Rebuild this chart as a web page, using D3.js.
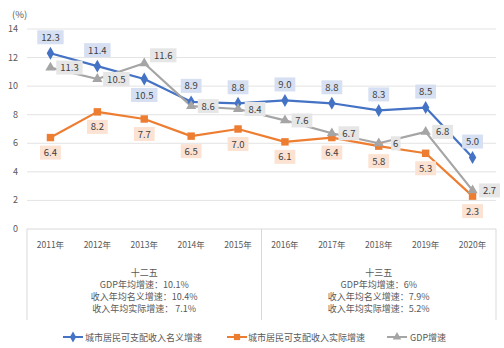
<!DOCTYPE html>
<html><head><meta charset="utf-8">
<script src="https://cdn.jsdelivr.net/npm/d3@7"></script>
<style>body{margin:0;background:#fff;}svg{display:block;font-family:"Noto Sans CJK SC","Noto Sans",sans-serif;}</style>
</head><body><svg id="c" width="504" height="348"></svg>
<script>
const years = ["2011年","2012年","2013年","2014年","2015年","2016年","2017年","2018年","2019年","2020年"];
const nominal = [12.3,11.4,10.5,8.9,8.8,9.0,8.8,8.3,8.5,5.0];
const real = [6.4,8.2,7.7,6.5,7.0,6.1,6.4,5.8,5.3,2.3];
const gdp = [11.3,10.5,11.6,8.6,8.4,7.6,6.7,6.0,6.8,2.7];
const gdpLabels = ["11.3","10.5","11.6","8.6","8.4","7.6","6.7","6","6.8","2.7"];
const yTicks = [0,2,4,6,8,10,12,14];
const seriesNames = ["城市居民可支配收入名义增速","城市居民可支配收入实际增速","GDP增速"];
const periods = [
  {name:"十二五", lines:["GDP年均增速：10.1%","收入年均名义增速：10.4%","收入年均实际增速： 7.1%"]},
  {name:"十三五", lines:["GDP年均增速：6%","收入年均名义增速：7.9%","收入年均实际增速：5.2%"]}
];

const svg = d3.select("#c");
const L=27, R=496, T=29, B=229;
const x = d3.scaleBand().domain(years).range([L,R]);
const y = d3.scaleLinear().domain([0,14]).range([B,T]);
const cx = d => x(d)+x.bandwidth()/2;

// grid
svg.append("g").selectAll("line").data(yTicks).join("line")
  .attr("x1",L).attr("x2",R).attr("y1",d=>y(d)).attr("y2",d=>y(d))
  .attr("stroke",d=>d===0?"#d9d9d9":"#e3e3e3").attr("stroke-width",1);
svg.append("g").selectAll("text").data(yTicks).join("text")
  .attr("x",18).attr("y",d=>y(d)+3).attr("text-anchor","end")
  .attr("font-size",9).attr("fill","#595959").text(d=>d);
svg.append("text").attr("x",12).attr("y",18).attr("font-size",9.5).attr("fill","#595959").text("(%)");

// box under axis
const boxB = 320;
[L, x("2016年"), R].forEach(v=>{
  svg.append("line").attr("x1",v).attr("x2",v).attr("y1",B).attr("y2",boxB).attr("stroke","#d9d9d9");
});
svg.append("g").selectAll("text").data(years).join("text")
  .attr("x",d=>cx(d)).attr("y",248).attr("text-anchor","middle")
  .attr("font-size",8.5).attr("fill","#595959").text(d=>d);
periods.forEach((p,i)=>{
  const xc = i===0 ? (L+x("2016年"))/2 : (x("2016年")+R)/2;
  const g = svg.append("g").attr("font-size",9).attr("fill","#595959").attr("text-anchor","middle");
  g.append("text").attr("x",xc).attr("y",276).text(p.name);
  p.lines.forEach((t,j)=>g.append("text").attr("x",xc).attr("y",288+j*12).text(t));
});

const colors = ["#4472c4","#ed7d31","#a5a5a5"];
const bgs = ["#d6e0f2","#fbe2d2","#e6e6e6"];
const data = [nominal, real, gdp];
const symbols = [d3.symbolDiamond, d3.symbolSquare, d3.symbolTriangle];
const symSize = [48,55,45];
const line = d3.line().x((d,i)=>cx(years[i])).y(d=>y(d));

data.forEach((s,k)=>{
  svg.append("path").datum(s).attr("d",line).attr("fill","none")
    .attr("stroke",colors[k]).attr("stroke-width",2.2).attr("stroke-linejoin","round");
});
data.forEach((s,k)=>{
  svg.append("g").selectAll("path").data(s).join("path")
    .attr("d",d3.symbol().type(symbols[k]).size(symSize[k]))
    .attr("transform",(d,i)=>`translate(${cx(years[i])},${y(d)})`)
    .attr("fill",colors[k]);
});

function label(xp, yp, txt, k){
  const g = svg.append("g");
  g.append("text").attr("x",xp).attr("y",yp+3.5).attr("text-anchor","middle")
    .attr("font-size",9.5).attr("fill","#404040").text(txt);
  const w = txt.length*5.6+4;
  g.insert("rect","text").attr("x",xp-w/2).attr("y",yp-7).attr("width",w).attr("height",14).attr("fill",bgs[k]);
}
nominal.forEach((v,i)=>{
  const below = i===2;
  label(cx(years[i]), y(v)+(below?16:-16), v.toFixed(1), 0);
});
real.forEach((v,i)=>{
  label(cx(years[i]), y(v)+15, v.toFixed(1), 1);
});
gdp.forEach((v,i)=>{
  const up = i===2 ? -8 : 0;
  label(cx(years[i])+17+(gdpLabels[i].length>3?2:0), y(v)+up, gdpLabels[i], 2);
});

// legend
const leg = [{x:63,tx:85},{x:227,tx:248},{x:387,tx:410}];
leg.forEach((l,k)=>{
  const ly = 337;
  svg.append("line").attr("x1",l.x).attr("x2",l.x+20).attr("y1",ly).attr("y2",ly).attr("stroke",colors[k]).attr("stroke-width",2);
  svg.append("path").attr("d",d3.symbol().type(symbols[k]).size(symSize[k]*0.7)).attr("transform",`translate(${l.x+10},${ly})`).attr("fill",colors[k]);
  svg.append("text").attr("x",l.tx).attr("y",ly+3.5).attr("font-size",9).attr("fill","#595959").text(seriesNames[k]);
});
</script></body></html>
